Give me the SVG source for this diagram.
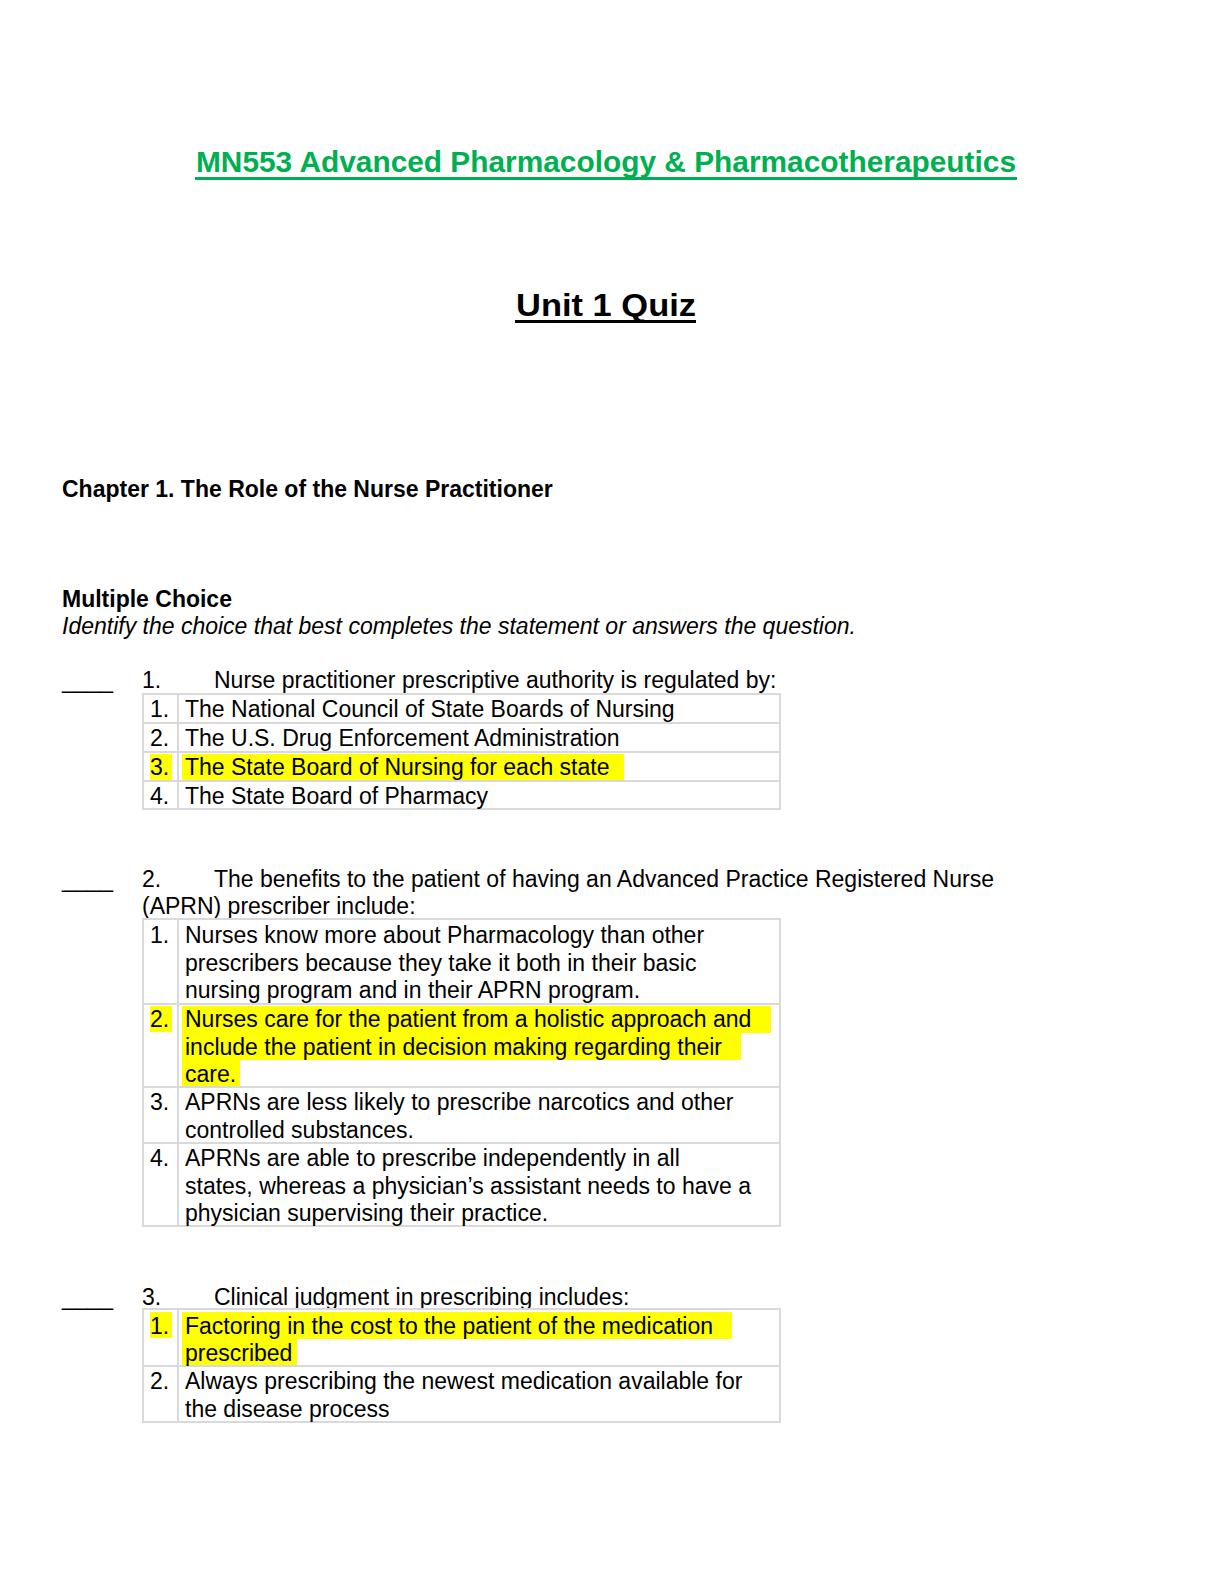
<svg xmlns="http://www.w3.org/2000/svg" width="1224" height="1584" viewBox="0 0 1224 1584">
<style>
text{font-family:"Liberation Sans",Arial,sans-serif;font-size:23px;fill:#000}
.t{fill:none;stroke:#d9d9d9;stroke-width:2}
.hl{fill:#ffff00}
.b{font-weight:bold}
</style>
<rect width="1224" height="1584" fill="#fff"/>
<text x="606" y="172" text-anchor="middle" class="b" style="font-size:30px;fill:#00b050" textLength="820" lengthAdjust="spacingAndGlyphs">MN553 Advanced Pharmacology &amp; Pharmacotherapeutics</text>
<rect x="195" y="177" width="822" height="3" fill="#00b050"/>
<text x="606" y="316" text-anchor="middle" class="b" style="font-size:32px" textLength="180" lengthAdjust="spacingAndGlyphs">Unit 1 Quiz</text>
<rect x="515" y="320" width="181" height="3" fill="#000"/>
<text x="62" y="497" class="b">Chapter 1. The Role of the Nurse Practitioner</text>
<text x="62" y="607" class="b">Multiple Choice</text>
<text x="62" y="634" style="font-style:italic">Identify the choice that best completes the statement or answers the question.</text>

<g id="q1">
<text x="62" y="688">____</text><text x="142" y="688">1.</text>
<text x="214" y="688">Nurse practitioner prescriptive authority is regulated by:</text>
<rect class="hl" x="150" y="754" width="22" height="26"/><rect class="hl" x="182" y="754" width="442" height="26"/>
<path class="t" d="M143 694H780V809H143ZM178 694V809M143 723H780M143 752H780M143 781H780"/>
<text x="150" y="717">1.</text><text x="185" y="717">The National Council of State Boards of Nursing</text>
<text x="150" y="746">2.</text><text x="185" y="746">The U.S. Drug Enforcement Administration</text>
<text x="150" y="775">3.</text><text x="185" y="775">The State Board of Nursing for each state</text>
<text x="150" y="804">4.</text><text x="185" y="804">The State Board of Pharmacy</text>
</g>

<g id="q2">
<text x="62" y="887">____</text><text x="142" y="887">2.</text>
<text x="214" y="887">The benefits to the patient of having an Advanced Practice Registered Nurse</text>
<text x="142" y="914">(APRN) prescriber include:</text>
<rect class="hl" x="150" y="1006" width="22" height="26"/>
<rect class="hl" x="182" y="1006" width="589" height="27"/><rect class="hl" x="182" y="1033" width="559" height="27"/><rect class="hl" x="182" y="1060" width="58" height="26"/>
<path class="t" d="M143 919H780V1226H143ZM178 919V1226M143 1004H780M143 1087H780M143 1143H780"/>
<text x="150" y="943">1.</text><text x="185" y="943">Nurses know more about Pharmacology than other</text>
<text x="185" y="971">prescribers because they take it both in their basic</text>
<text x="185" y="998">nursing program and in their APRN program.</text>
<text x="150" y="1027">2.</text><text x="185" y="1027">Nurses care for the patient from a holistic approach and</text>
<text x="185" y="1055">include the patient in decision making regarding their</text>
<text x="185" y="1082">care.</text>
<text x="150" y="1110">3.</text><text x="185" y="1110">APRNs are less likely to prescribe narcotics and other</text>
<text x="185" y="1138">controlled substances.</text>
<text x="150" y="1166">4.</text><text x="185" y="1166">APRNs are able to prescribe independently in all</text>
<text x="185" y="1194">states, whereas a physician’s assistant needs to have a</text>
<text x="185" y="1221">physician supervising their practice.</text>
</g>

<g id="q3">
<text x="62" y="1305">____</text><text x="142" y="1305">3.</text>
<text x="214" y="1305">Clinical judgment in prescribing includes:</text>
<rect class="hl" x="150" y="1312" width="22" height="26"/>
<rect class="hl" x="182" y="1312" width="550" height="27"/><rect class="hl" x="182" y="1339" width="115" height="26"/>
<path class="t" d="M143 1309H780V1422H143ZM178 1309V1422M143 1366H780"/>
<text x="150" y="1334">1.</text><text x="185" y="1334">Factoring in the cost to the patient of the medication</text>
<text x="185" y="1361">prescribed</text>
<text x="150" y="1389">2.</text><text x="185" y="1389">Always prescribing the newest medication available for</text>
<text x="185" y="1417">the disease process</text>
</g>
</svg>
